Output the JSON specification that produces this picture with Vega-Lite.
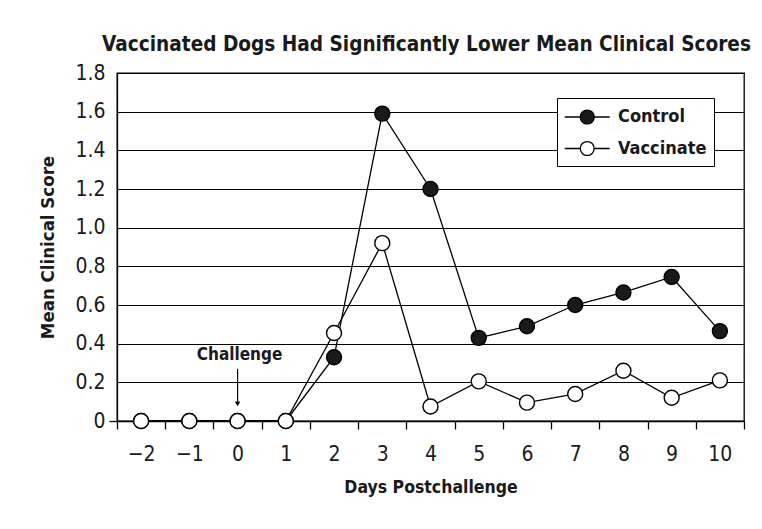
{
  "$schema": "https://vega.github.io/schema/vega-lite/v6.json",
  "width": 627,
  "height": 348,
  "autosize": {"type": "none"},
  "padding": {"left": 117, "top": 73, "right": 18, "bottom": 108},
  "background": "white",
  "title": {
    "text": "Vaccinated Dogs Had Significantly Lower Mean Clinical Scores",
    "font": "DejaVu Sans Condensed, DejaVu Sans, sans-serif",
    "fontSize": 20.6,
    "fontWeight": "bold",
    "color": "#1a1a1a",
    "anchor": "middle",
    "dx": -4,
    "offset": 6
  },
  "config": {
    "font": "DejaVu Sans Condensed, DejaVu Sans, sans-serif",
    "view": {"stroke": "black", "strokeWidth": 1.3},
    "legend": {
      "orient": "none",
      "legendX": 440,
      "legendY": 25,
      "strokeColor": "black",
      "fillColor": "white",
      "padding": 7,
      "rowPadding": 9.5,
      "symbolType": "M-1,0H0.38M1.62,0H3M0.38,0A0.62,0.62 0 1,0 1.62,0A0.62,0.62 0 1,0 0.38,0Z",
      "symbolSize": 506,
      "symbolStrokeColor": "black",
      "symbolStrokeWidth": 1.3,
      "labelOffset": 30,
      "labelFontSize": 18,
      "labelFontWeight": "bold",
      "labelColor": "#1a1a1a",
      "title": null
    }
  },
  "datasets": {
    "scores": [
      {"day": -2, "group": "Control", "score": 0},
      {"day": -1, "group": "Control", "score": 0},
      {"day": 0, "group": "Control", "score": 0},
      {"day": 1, "group": "Control", "score": 0},
      {"day": 2, "group": "Control", "score": 0.33},
      {"day": 3, "group": "Control", "score": 1.59},
      {"day": 4, "group": "Control", "score": 1.2},
      {"day": 5, "group": "Control", "score": 0.43},
      {"day": 6, "group": "Control", "score": 0.49},
      {"day": 7, "group": "Control", "score": 0.6},
      {"day": 8, "group": "Control", "score": 0.665},
      {"day": 9, "group": "Control", "score": 0.745},
      {"day": 10, "group": "Control", "score": 0.465},
      {"day": -2, "group": "Vaccinate", "score": 0},
      {"day": -1, "group": "Vaccinate", "score": 0},
      {"day": 0, "group": "Vaccinate", "score": 0},
      {"day": 1, "group": "Vaccinate", "score": 0},
      {"day": 2, "group": "Vaccinate", "score": 0.455},
      {"day": 3, "group": "Vaccinate", "score": 0.92},
      {"day": 4, "group": "Vaccinate", "score": 0.075},
      {"day": 5, "group": "Vaccinate", "score": 0.205},
      {"day": 6, "group": "Vaccinate", "score": 0.095},
      {"day": 7, "group": "Vaccinate", "score": 0.14},
      {"day": 8, "group": "Vaccinate", "score": 0.26},
      {"day": 9, "group": "Vaccinate", "score": 0.12},
      {"day": 10, "group": "Vaccinate", "score": 0.21}
    ],
    "note": [
      {"day": 0, "score": 0.34, "top": 0.27, "bottom": 0.1, "tip": 0.088, "label": "Challenge"}
    ]
  },
  "encoding": {
    "x": {
      "field": "day",
      "type": "quantitative",
      "scale": {"domain": [-2.5, 10.5], "nice": false, "zero": false},
      "axis": {
        "title": "Days Postchallenge",
        "titleFontSize": 17.5,
        "titleFontWeight": "bold",
        "titleColor": "#1a1a1a",
        "titlePadding": 14,
        "values": [-2.5, -1.5, -0.5, 0.5, 1.5, 2.5, 3.5, 4.5, 5.5, 6.5, 7.5, 8.5, 9.5, 10.5],
        "labelExpr": "datum.value < 10 ? replace(format(datum.value + 0.5, 'd'), '-', '\u2212') : ''",
        "labelOffset": 24.1,
        "labelFlush": false,
        "labelOverlap": false,
        "labelFontSize": 21,
        "labelColor": "#1a1a1a",
        "labelPadding": 14,
        "tickSize": 8,
        "tickColor": "black",
        "tickWidth": 1.3,
        "domainColor": "black",
        "domainWidth": 1.3,
        "grid": false
      }
    },
    "y": {
      "field": "score",
      "type": "quantitative",
      "scale": {"domain": [0, 1.8], "nice": false},
      "axis": {
        "title": "Mean Clinical Score",
        "titleFontSize": 18.5,
        "titleFontWeight": "bold",
        "titleColor": "#1a1a1a",
        "titlePadding": 17,
        "values": [0, 0.2, 0.4, 0.6, 0.8, 1.0, 1.2, 1.4, 1.6, 1.8],
        "labelExpr": "datum.value == 0 ? '0' : format(datum.value, '.1f')",
        "labelFontSize": 21,
        "labelColor": "#1a1a1a",
        "labelPadding": 4,
        "tickSize": 8,
        "tickColor": "black",
        "tickWidth": 1.3,
        "tickOpacity": {"condition": {"test": "datum.value == 0", "value": 1}, "value": 0},
        "domainColor": "black",
        "domainWidth": 1.3,
        "grid": true,
        "gridColor": "black",
        "gridWidth": 1.2,
        "gridOpacity": 1
      }
    }
  },
  "layer": [
    {
      "data": {"name": "scores"},
      "mark": {"type": "line", "color": "black", "strokeWidth": 1.3},
      "encoding": {"detail": {"field": "group", "type": "nominal"}}
    },
    {
      "data": {"name": "scores"},
      "mark": {"type": "point", "shape": "circle", "filled": true, "stroke": "black", "strokeWidth": 1.4, "size": 225, "opacity": 1},
      "encoding": {
        "fill": {
          "field": "group",
          "type": "nominal",
          "scale": {"domain": ["Control", "Vaccinate"], "range": ["#1a1a1a", "white"]},
          "legend": {"title": null}
        }
      }
    },
    {
      "data": {"name": "note"},
      "mark": {"type": "text", "fontSize": 17, "fontWeight": "bold", "color": "#1a1a1a", "dx": 2},
      "encoding": {"text": {"field": "label"}}
    },
    {
      "data": {"name": "note"},
      "mark": {"type": "rule", "color": "black", "strokeWidth": 1.2},
      "encoding": {"y": {"field": "top", "type": "quantitative"}, "y2": {"field": "bottom"}}
    },
    {
      "data": {"name": "note"},
      "mark": {"type": "point", "shape": "triangle-down", "filled": true, "color": "black", "size": 30, "opacity": 1},
      "encoding": {"y": {"field": "tip", "type": "quantitative"}}
    }
  ]
}
